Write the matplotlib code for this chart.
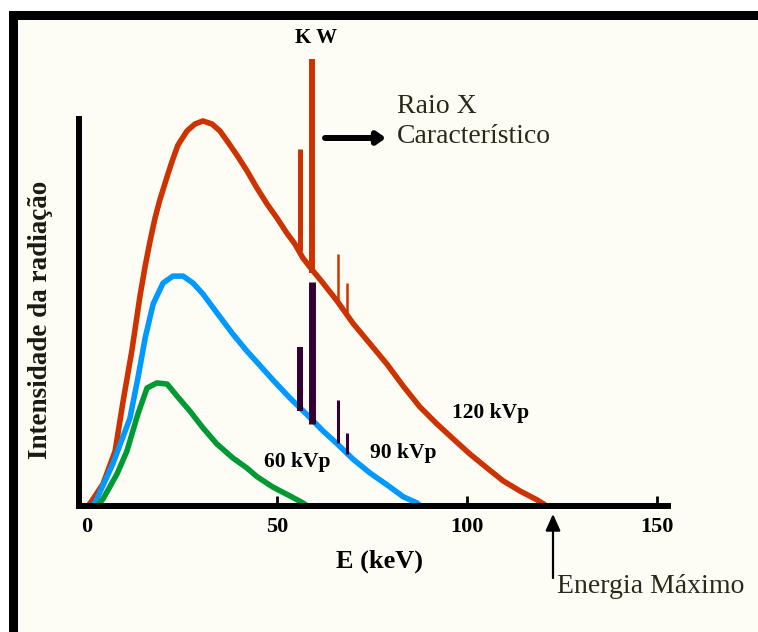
import matplotlib
matplotlib.use('Agg')
import matplotlib.pyplot as plt
from matplotlib.patches import Rectangle

W, H = 758, 632

# spectrum curves (energy in keV, intensity in arbitrary units)
e_120 = [0.3, 1.6, 4.2, 7.4, 9.5, 11.8, 13.9, 15.3, 16.6, 17.9, 19.2, 21.3, 22.4, 23.9,
         26.3, 28.4, 30.5, 32.9, 35.0, 37.1, 39.5, 42.1, 44.7, 47.4, 50.0, 52.6, 54.7,
         56.8, 59.5, 61.3, 65.8, 70.0, 74.5, 78.9, 83.2, 87.6, 92.1, 96.3, 100.8, 105.3,
         109.5, 113.9, 118.4, 121.0]
i_120 = [0.0, 1.8, 5.7, 14.2, 27.1, 40.1, 54.0, 62.0, 68.5, 74.4, 79.2, 85.8, 89.1, 93.2,
         96.9, 98.7, 99.5, 98.7, 96.9, 94.0, 90.6, 86.6, 82.2, 78.0, 74.4, 70.5, 67.7,
         64.1, 60.7, 58.6, 53.0, 47.2, 41.9, 36.7, 31.0, 25.6, 21.2, 17.4, 13.4, 9.8,
         6.5, 3.9, 1.6, 0.0]

e_90 = [1.0, 2.1, 6.8, 11.3, 13.4, 15.3, 17.4, 20.0, 22.6, 25.3, 27.9, 30.5, 34.2, 38.4,
        42.1, 44.7, 48.9, 53.4, 57.9, 62.1, 65.8, 70.0, 74.5, 78.9, 83.2, 86.8, 87.8]
i_90 = [0.0, 0.8, 10.9, 22.7, 33.1, 43.4, 52.2, 57.6, 59.4, 59.4, 57.6, 54.8, 49.9, 44.4,
        40.0, 37.2, 32.6, 27.9, 23.6, 19.4, 16.1, 12.1, 8.5, 5.5, 2.4, 0.8, 0.0]

e_60 = [2.6, 4.2, 7.9, 10.5, 13.4, 15.8, 18.4, 21.1, 23.7, 27.1, 30.5, 34.2, 38.4,
        42.1, 44.7, 48.9, 53.4, 56.8, 58.0]
i_60 = [0.0, 1.8, 8.3, 14.2, 23.8, 30.5, 31.8, 31.5, 28.4, 24.5, 20.2, 16.0, 12.4,
        9.8, 7.6, 4.9, 2.6, 0.8, 0.0]

# characteristic lines
k_energy = [56.0, 59.2, 66.0, 68.4]
k120_low = [65.9, 60.2, 52.5, 49.4]
k120_high = [92.2, 115.5, 65.1, 57.6]
k90_low = [24.5, 21.2, 16.3, 13.4]
k90_high = [41.1, 57.9, 27.4, 18.9]

xticks = [0, 50, 100, 150]

RED = '#cc3300'
BLUE = '#0099ff'
GREEN = '#009933'
PURPLE = '#330033'
BG = '#fdfdf6'


def fx(px):
    return px / W


def fy(py):
    return 1 - py / H


plt.rcParams['font.family'] = 'Liberation Serif'

fig = plt.figure(figsize=(W / 100, H / 100), dpi=100, facecolor='white')
# black frame (left and top) and the cream page
fig.add_artist(Rectangle((fx(9), 0), 1, fy(11), transform=fig.transFigure,
                         facecolor='black', edgecolor='none', zorder=-10))
fig.add_artist(Rectangle((fx(18), 0), 1, fy(20), transform=fig.transFigure,
                         facecolor=BG, edgecolor='none', zorder=-9))

ax = fig.add_axes([fx(78.5), fy(506), fx(668.4) - fx(78.5), fy(22.25) - fy(506)])
ax.patch.set_visible(False)
ax.set_xlim(-2.24, 153)
ax.set_ylim(0, 125)

ax.plot(e_120, i_120, color=RED, lw=4, solid_capstyle='butt', solid_joinstyle='round')
ax.plot(e_90, i_90, color=BLUE, lw=4, solid_capstyle='butt', solid_joinstyle='round')
ax.plot(e_60, i_60, color=GREEN, lw=4, solid_capstyle='butt', solid_joinstyle='round')

ax.vlines(k_energy, k120_low, k120_high, colors=RED, lw=[3.6, 4.3, 1.8, 1.8])
ax.vlines(k_energy, k90_low, k90_high, colors=PURPLE, lw=[4.3, 5.0, 2.2, 2.2])

for s in ['top', 'right']:
    ax.spines[s].set_visible(False)
for s in ['left', 'bottom']:
    ax.spines[s].set_linewidth(4.3)
    ax.spines[s].set_color('black')
ax.spines['left'].set_bounds(0, 100)

ax.set_yticks([])
ax.set_xticks(xticks)
ax.set_xticklabels([str(t) for t in xticks], fontsize=16, fontweight='bold')
ax.tick_params(axis='x', direction='in', length=7.5, width=2, pad=8)
ax.xaxis.get_major_ticks()[0].tick1line.set_visible(False)

# texts
fig.text(fx(380), fy(568), 'E (keV)', ha='center', va='baseline',
         fontsize=19, fontweight='bold')
fig.text(fx(41), fy(320), 'Intensidade da radiação', rotation=90, ha='center',
         va='center', fontsize=19.5, fontweight='bold', color='#1a1a10')
fig.text(fx(316), fy(43), 'K W', ha='center', va='baseline', fontsize=15,
         fontweight='bold')
fig.text(fx(491), fy(418), '120 kVp', ha='center', va='baseline', fontsize=15.5,
         fontweight='bold')
fig.text(fx(403), fy(458), '90 kVp', ha='center', va='baseline', fontsize=15.5,
         fontweight='bold')
fig.text(fx(297), fy(467), '60 kVp', ha='center', va='baseline', fontsize=15.5,
         fontweight='bold')
fig.text(fx(397), fy(113), 'Raio X', ha='left', va='baseline', fontsize=20,
         color='#2a2a1a')
fig.text(fx(397), fy(143), 'Característico', ha='left', va='baseline', fontsize=20,
         color='#2a2a1a')
fig.text(fx(557), fy(593), 'Energia Máximo', ha='left', va='baseline', fontsize=20,
         color='#2a2a1a')

# arrows
ax.annotate('', xy=(386, H - 138), xycoords='figure pixels',
            xytext=(325, H - 138), textcoords='figure pixels',
            arrowprops=dict(arrowstyle='-|>,head_length=0.5,head_width=0.35',
                            lw=4.3, color='black', shrinkA=0, shrinkB=0))
ax.annotate('', xy=(553, H - 514), xycoords='figure pixels',
            xytext=(553, H - 578), textcoords='figure pixels',
            arrowprops=dict(arrowstyle='-|>,head_length=1.0,head_width=0.45',
                            lw=1.6, color='black', shrinkA=0, shrinkB=0))

fig.savefig('out.png', dpi=100, facecolor=fig.get_facecolor())
